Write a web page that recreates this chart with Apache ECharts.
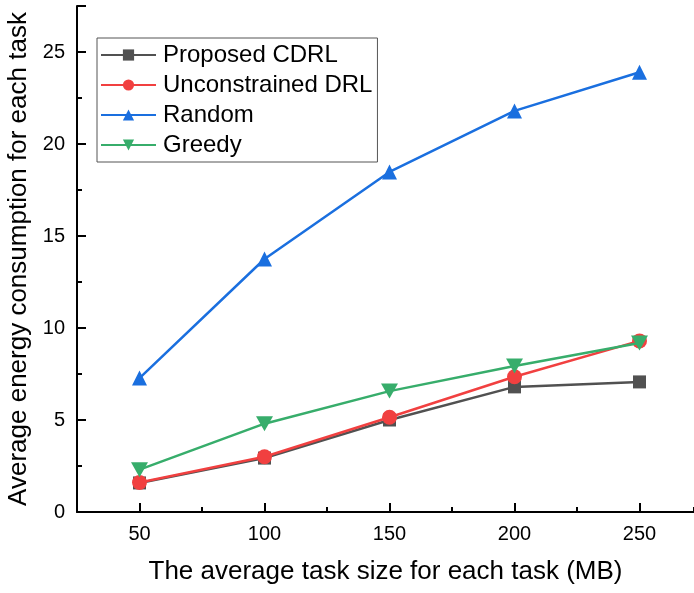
<!DOCTYPE html>
<html>
<head>
<meta charset="utf-8">
<script src="https://cdn.jsdelivr.net/npm/echarts@6/dist/echarts.min.js"></script>
<style>
  html, body { margin: 0; padding: 0; background: #fff; }
  #chart { width: 694px; height: 593px; }
</style>
</head>
<body>
<div id="chart"></div>
<script>
// Average task size (MB)
const taskSizes = [50, 100, 150, 200, 250];

// Average energy consumption per task for each scheme
const proposedCDRL = [1.58, 2.93, 5.0, 6.8, 7.07];
const unconstrainedDRL = [1.6, 3.0, 5.15, 7.35, 9.3];
const randomScheme = [7.28, 13.75, 18.48, 21.8, 23.9];
const greedyScheme = [2.3, 4.8, 6.57, 7.93, 9.18];

// Labelled ticks on the x axis
const xTickValues = [50, 100, 150, 200, 250];

const seriesNames = ['Proposed CDRL', 'Unconstrained DRL', 'Random', 'Greedy'];
const seriesColors = ['#515151', '#F14040', '#1A6FDF', '#37AD6B'];
const seriesSymbols = ['rect', 'circle', 'triangle', 'path://M0,0 L10,0 L5,9 Z'];
const seriesData = [proposedCDRL, unconstrainedDRL, randomScheme, greedyScheme];

const fontFamily = '"Liberation Sans", Arial, sans-serif';
const xMin = 25, xMax = 271.8;

const chart = echarts.init(document.getElementById('chart'));

chart.setOption({
  animation: false,
  backgroundColor: '#fff',
  grid: { left: 77, right: 0, top: 6, bottom: 81, containLabel: false, outerBoundsMode: 'none' },
  legend: {
    left: 97,
    top: 38,
    orient: 'vertical',
    itemWidth: 55,
    itemHeight: 14,
    itemGap: 6,
    padding: [5, 5, 5, 3],
    borderColor: '#555',
    borderWidth: 1,
    textStyle: { fontFamily, fontSize: 24, lineHeight: 22, color: '#000', padding: [0, 0, 0, 2] },
    data: seriesNames
  },
  xAxis: [
    {
      type: 'value',
      min: xMin,
      max: xMax,
      name: 'The average task size for each task (MB)',
      nameLocation: 'middle',
      nameGap: 47,
      nameTextStyle: { fontFamily, fontSize: 26, color: '#000' },
      axisLine: { onZero: false, lineStyle: { color: '#000', width: 2 } },
      axisTick: { inside: true, length: 9, customValues: xTickValues, lineStyle: { color: '#000', width: 2 } },
      splitLine: { show: false },
      axisLabel: { fontFamily, fontSize: 20, color: '#000', margin: 12, customValues: xTickValues }
    },
    {
      // short in-between ticks
      type: 'value',
      min: xMin,
      max: xMax,
      interval: 50,
      position: 'bottom',
      axisLine: { show: false },
      axisTick: { inside: true, length: 5, lineStyle: { color: '#000', width: 2 } },
      axisLabel: { show: false },
      splitLine: { show: false }
    }
  ],
  yAxis: {
    type: 'value',
    min: 0,
    max: 27.5,
    interval: 5,
    name: 'Average energy consumption for each task',
    nameLocation: 'middle',
    nameGap: 36,
    nameTextStyle: { fontFamily, fontSize: 26, color: '#000' },
    axisLine: { lineStyle: { color: '#000', width: 2 } },
    axisTick: { inside: true, length: 9, lineStyle: { color: '#000', width: 2 } },
    minorTick: { show: true, splitNumber: 2, length: 5, lineStyle: { color: '#000', width: 2 } },
    splitLine: { show: false },
    axisLabel: {
      fontFamily, fontSize: 20, color: '#000', margin: 12,
      formatter: v => (v > 25 ? '' : String(v))
    }
  },
  series: seriesNames.map((name, i) => ({
    name,
    type: 'line',
    xAxisIndex: 0,
    data: taskSizes.map((x, j) => [x, seriesData[i][j]]),
    symbol: seriesSymbols[i],
    symbolSize: i === 3 ? [17, 15] : (i === 0 ? 13 : 15),
    showSymbol: true,
    itemStyle: { color: seriesColors[i] },
    lineStyle: { color: seriesColors[i], width: 2.5 },
    z: 2 + i
  }))
});
</script>
</body>
</html>
